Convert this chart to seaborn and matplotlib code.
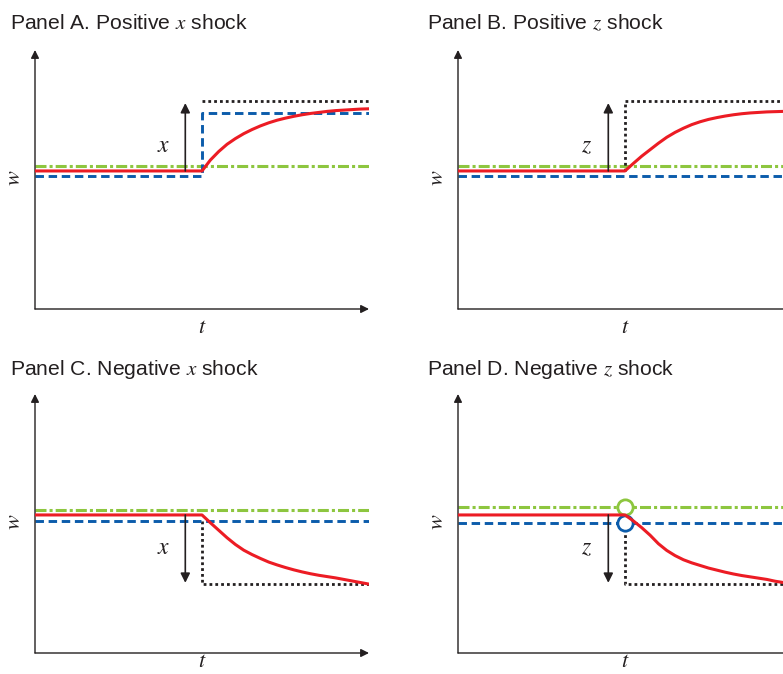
import matplotlib
matplotlib.use("Agg")
import matplotlib.pyplot as plt
import seaborn as sns
import pandas as pd

# ---------------- data ----------------
T_CURVE = [5.0, 5.25, 5.5, 5.75, 6.0, 6.25, 6.5, 6.75, 7.0, 7.25, 7.5,
           7.75, 8.0, 8.25, 8.5, 8.75, 9.0, 9.25, 9.5, 9.75, 10.0]
RED_A = [5.33, 5.75, 6.08, 6.36, 6.58, 6.77, 6.93, 7.07, 7.19, 7.29, 7.37,
         7.44, 7.50, 7.55, 7.59, 7.63, 7.66, 7.68, 7.70, 7.72, 7.73]
RED_B = [5.33, 5.62, 5.90, 6.15, 6.40, 6.63, 6.82, 6.98, 7.12, 7.23, 7.32,
         7.39, 7.45, 7.50, 7.54, 7.57, 7.59, 7.61, 7.62, 7.63, 7.64]
RED_C = [5.33, 5.03, 4.74, 4.45, 4.19, 3.97, 3.80, 3.65, 3.51, 3.40, 3.30,
         3.21, 3.13, 3.06, 3.00, 2.95, 2.90, 2.84, 2.78, 2.72, 2.66]
RED_D = [5.33, 5.10, 4.84, 4.55, 4.22, 3.96, 3.76, 3.60, 3.48, 3.38, 3.28,
         3.20, 3.12, 3.05, 2.99, 2.94, 2.89, 2.84, 2.77, 2.72, 2.68]

T_START, T_SHOCK, T_END = 0.0, 5.0, 10.0
RED_BASE = 5.33
GREEN_LEVEL = {"A": 5.52, "B": 5.52, "C": 5.52, "D": 5.64}
BLUE_BEFORE = {"A": 5.14, "B": 5.14, "C": 5.10, "D": 5.02}
BLUE_AFTER = {"A": 7.57, "B": 5.14, "C": 5.10, "D": 5.02}
DOTTED_LEVEL = {"A": 8.03, "B": 8.03, "C": 2.66, "D": 2.66}
DOTTED_FROM = {"A": 8.03, "B": 5.33, "C": 5.10, "D": 5.02}
ARROW_END = {"A": 7.95, "B": 7.95, "C": 2.71, "D": 2.71}
SHOCK_LABEL = {"A": "x", "B": "z", "C": "x", "D": "z"}
LABEL_Y = {"A": 6.29, "B": 6.29, "C": 4.05, "D": 4.05}
TITLES = {
    "A": "Panel A. Positive $x$ shock",
    "B": "Panel B. Positive $z$ shock",
    "C": "Panel C. Negative $x$ shock",
    "D": "Panel D. Negative $z$ shock",
}
RED = {"A": RED_A, "B": RED_B, "C": RED_C, "D": RED_D}

# ---------------- style ----------------
sns.set_style("white")
plt.rcParams["font.family"] = ["Liberation Sans", "DejaVu Sans"]
plt.rcParams["mathtext.fontset"] = "stix"

C_GREEN = "#8dc63f"
C_RED = "#ec1c24"
C_BLUE = "#0b5cab"
C_BLACK = "#231f20"

W, H = 783, 674
fig = plt.figure(figsize=(W / 100, H / 100), dpi=100)

# axes rectangles in pixels: (left, x-axis y)
AX_PIX = {"A": (35, 309), "B": (458, 309), "C": (35, 653), "D": (458, 653)}
AX_W, AX_H = 334, 259
TITLE_PIX = {"A": (10, 29), "B": (427, 29), "C": (10, 375), "D": (427, 375)}
# t label: (axes-fraction y, vertical alignment)
T_LABEL = {"A": (-0.073, "center"), "B": (-0.073, "center"),
           "C": (-0.074, "bottom"), "D": (-0.074, "bottom")}


def line(ax, ts, ws, **kw):
    df = pd.DataFrame({"t": ts, "w": ws})
    sns.lineplot(data=df, x="t", y="w", ax=ax, sort=False, estimator=None,
                 legend=False, **kw)


for key in ["A", "B", "C", "D"]:
    lx, by = AX_PIX[key]
    ax = fig.add_axes([lx / W, (H - by) / H, AX_W / W, AX_H / H])
    ax.set_xlim(0, 10)
    ax.set_ylim(0, 10)
    for s in ax.spines.values():
        s.set_visible(False)
    ax.set_xticks([])
    ax.set_yticks([])
    ax.patch.set_alpha(0)

    # axes with arrow heads
    ax.annotate("", xy=(1.0, 0), xytext=(0, 0), xycoords="axes fraction",
                arrowprops=dict(arrowstyle="-|>", lw=1.0, color=C_BLACK,
                                mutation_scale=12, shrinkA=0, shrinkB=0),
                annotation_clip=False)
    ax.annotate("", xy=(0, 1.0), xytext=(0, 0), xycoords="axes fraction",
                arrowprops=dict(arrowstyle="-|>", lw=1.0, color=C_BLACK,
                                mutation_scale=12, shrinkA=0, shrinkB=0),
                annotation_clip=False)

    g = GREEN_LEVEL[key]
    line(ax, [T_START, T_END], [g, g], color=C_GREEN, lw=2.2,
         linestyle=(0, (3.6, 1.0, 1.0, 1.0)))

    # dotted black target path
    line(ax, [T_SHOCK, T_SHOCK, T_END],
         [DOTTED_FROM[key], DOTTED_LEVEL[key], DOTTED_LEVEL[key]],
         color=C_BLACK, lw=2.0, linestyle=(0, (1, 1.1)))

    # blue dashed
    if BLUE_AFTER[key] != BLUE_BEFORE[key]:
        bt = [T_START, T_SHOCK, T_SHOCK, T_END]
        bw = [BLUE_BEFORE[key], BLUE_BEFORE[key], BLUE_AFTER[key], BLUE_AFTER[key]]
    else:
        bt = [T_START, T_END]
        bw = [BLUE_BEFORE[key], BLUE_BEFORE[key]]
    line(ax, bt, bw, color=C_BLUE, lw=2.1, linestyle=(0, (2.9, 1.6)))

    # circles in panel D
    if key == "D":
        ax.plot([T_SHOCK], [GREEN_LEVEL[key]], marker="o", ms=11, mfc="white",
                mec=C_GREEN, mew=2.0, zorder=4, clip_on=False)
        ax.plot([T_SHOCK], [BLUE_BEFORE[key]], marker="o", ms=11, mfc="white",
                mec=C_BLUE, mew=2.0, zorder=4, clip_on=False)

    # red path
    rt = [T_START] + T_CURVE
    rw = [RED_BASE] + RED[key]
    line(ax, rt, rw, color=C_RED, lw=2.2, zorder=5)

    # shock arrow
    ax.annotate("", xy=(4.5, ARROW_END[key]), xytext=(4.5, RED_BASE),
                arrowprops=dict(arrowstyle="-|>", lw=1.2, color=C_BLACK,
                                mutation_scale=14, shrinkA=0, shrinkB=0),
                zorder=6)
    ax.text(3.85, LABEL_Y[key], "$" + SHOCK_LABEL[key] + "$", fontsize=17,
            ha="center", va="center", color=C_BLACK)

    # axis labels
    ax.text(-0.06, 0.505, "$w$", transform=ax.transAxes, rotation=90,
            fontsize=16, ha="center", va="center", color=C_BLACK)
    ty_ax, tva = T_LABEL[key]
    ax.text(0.5, ty_ax, "$t$", transform=ax.transAxes, fontsize=16,
            ha="center", va=tva, color=C_BLACK)

    tx, ty = TITLE_PIX[key]
    fig.text(tx / W, 1 - ty / H, TITLES[key], fontsize=15.2, ha="left",
             va="baseline", color=C_BLACK)

fig.savefig("out.png", dpi=100)
